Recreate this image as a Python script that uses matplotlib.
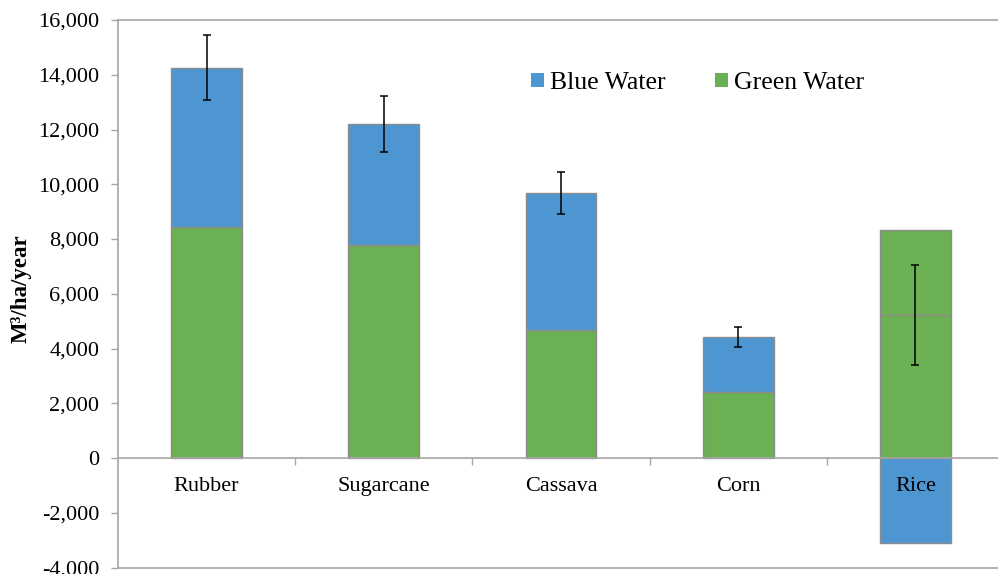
import matplotlib

matplotlib.use("Agg")
import matplotlib.pyplot as plt
import numpy as np
from matplotlib.patches import Patch
from matplotlib.ticker import FixedLocator, FuncFormatter

crops = ["Rubber", "Sugarcane", "Cassava", "Corn", "Rice"]
green_water = [8440, 7780, 4680, 2410, 8320]
blue_water = [5810, 4420, 5000, 2010, -3110]
error = [1190, 1020, 785, 365, 1830]

blue_color = "#4e96d2"
green_color = "#6bb052"
edge_color = "#8c8c8c"
axis_color = "#a6a6a6"

plt.rcParams["font.family"] = ["Liberation Serif", "DejaVu Serif"]

fig = plt.figure(figsize=(9.98, 5.74), dpi=100)
ax = fig.add_axes([118 / 998, 1 - 567.5 / 574, 886 / 998, 547.5 / 574])
ax.set_axisbelow(False)

x = np.arange(len(crops))
green = np.asarray(green_water, dtype=float)
blue = np.asarray(blue_water, dtype=float)
net = green + blue
width = 0.4

ax.bar(x, green, width, color=green_color, edgecolor=edge_color, linewidth=1.0, zorder=1)
ax.bar(x, blue, width, bottom=np.where(blue > 0, green, 0), color=blue_color,
       edgecolor=edge_color, linewidth=1.0, zorder=1)

# net line where blue water is negative (rice)
for xi, n, b in zip(x, net, blue):
    if b < 0:
        ax.hlines(n, xi - width / 2, xi + width / 2, color=edge_color, linewidth=1.0, zorder=2)

ax.errorbar(x, net, yerr=error, fmt="none", ecolor="black", elinewidth=1.1,
            capsize=2.6, capthick=1.1, zorder=3)

ax.set_xlim(-0.5, len(crops) - 0.5)
ax.set_ylim(-4000, 16000)
ax.set_yticks(np.arange(-4000, 16001, 2000))
ax.yaxis.set_major_formatter(FuncFormatter(lambda v, _: f"{int(v):,}"))
ax.tick_params(axis="y", direction="out", length=5, width=1.0, color=axis_color,
               labelsize=16, pad=8.5)

ax.spines["bottom"].set_position(("data", 0))
ax.spines["right"].set_visible(False)
for side in ["left", "top", "bottom"]:
    ax.spines[side].set_color(axis_color)
    ax.spines[side].set_linewidth(1.2)
ax.axhline(-4000, color=axis_color, linewidth=1.2, clip_on=False)

ax.set_xticks(x)
ax.set_xticklabels(crops)
ax.xaxis.set_minor_locator(FixedLocator(np.arange(0.5, len(crops) - 0.5, 1)))
ax.tick_params(axis="x", which="major", length=0, labelsize=16, pad=14)
ax.tick_params(axis="x", which="minor", direction="out", length=5, width=1.0, color=axis_color)

ax.set_ylabel("M³/ha/year", fontsize=16.5, fontweight="bold")
ax.yaxis.set_label_coords(-86 / 886, (567.5 - 289) / 547.5)

handles = [Patch(facecolor=blue_color, edgecolor="none", label="Blue Water"),
           Patch(facecolor=green_color, edgecolor="none", label="Green Water")]
ax.legend(handles=handles, loc="center left", bbox_to_anchor=((531 - 118) / 886, (567.5 - 83) / 547.5),
          ncol=2, frameon=False, fontsize=18.5, handlelength=0.5, handleheight=0.5,
          handletextpad=0.25, columnspacing=1.9, borderaxespad=0, borderpad=0)

fig.savefig("out.png", dpi=100)
